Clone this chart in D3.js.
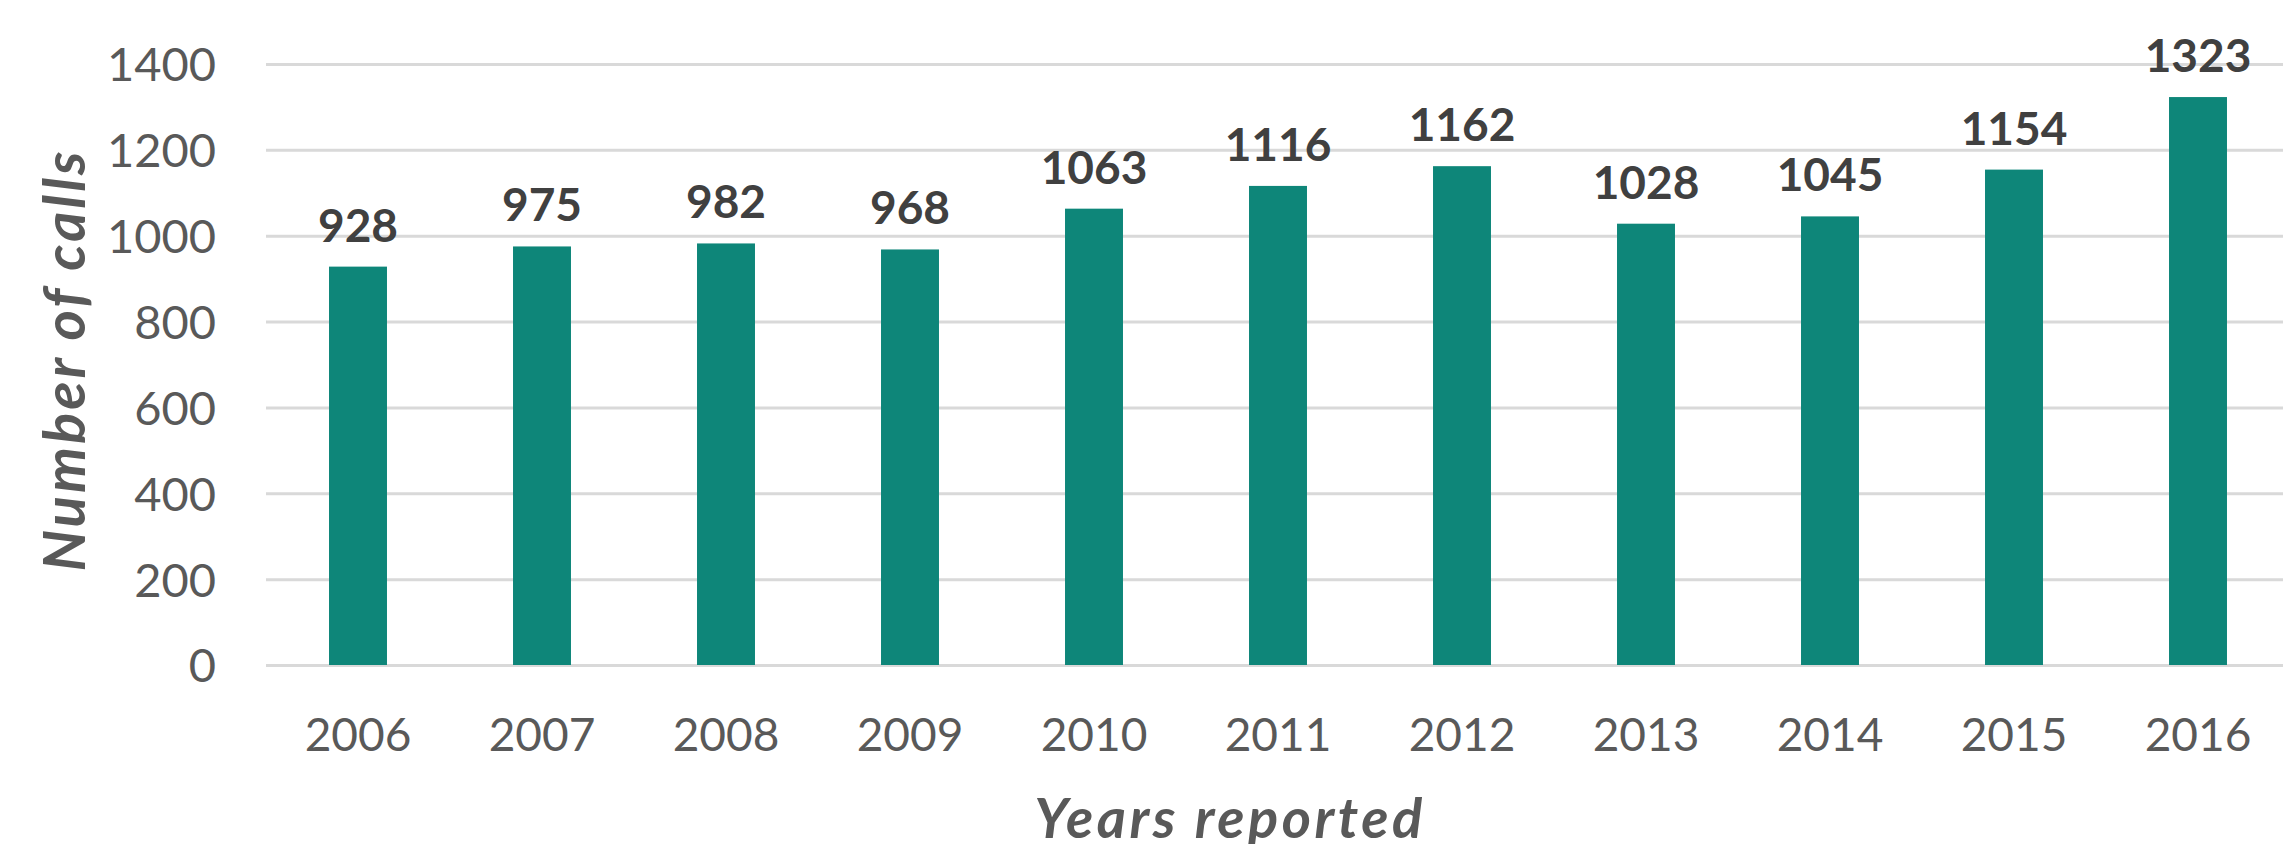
<!DOCTYPE html>
<html><head><meta charset="utf-8">
<script src="https://cdn.jsdelivr.net/npm/d3@7"></script>
<style>html,body{margin:0;padding:0;background:#fff;overflow:hidden}</style>
</head><body>
<svg id="chart" width="2283" height="844"></svg>
<script>
const years = ["2006","2007","2008","2009","2010","2011","2012","2013","2014","2015","2016"];
const calls = [928,975,982,968,1063,1116,1162,1028,1045,1154,1323];
const yTicks = [0,200,400,600,800,1000,1200,1400];
const xTitle = "Years reported";
const yTitle = "Number of calls";

const svg = d3.select("#chart");
const font = "Lato, 'Open Sans', sans-serif";
const x = d3.scaleBand().domain(years).range([266, 2290]).paddingInner(0.685).paddingOuter(0.3425);
const y = d3.scaleLinear().domain([0,1400]).range([665, 64]);

// gridlines
const yAxis = d3.axisLeft(y).tickValues(yTicks).tickSize(-(2290-266)).tickPadding(50).tickFormat(d3.format("d"));
const gy = svg.append("g").attr("transform","translate(266,0)").call(yAxis);
gy.select(".domain").remove();
gy.selectAll(".tick line").attr("stroke","#d9d9d9").attr("stroke-width",3);
gy.selectAll(".tick text").attr("fill","#595959").style("font-family",font).style("font-size","47px").attr("dy","0.36em");

// bars
svg.append("g").selectAll("rect").data(years).join("rect")
  .attr("x", d=>x(d)).attr("width", x.bandwidth())
  .attr("y", (d,i)=>y(calls[i])).attr("height",(d,i)=>y(0)-y(calls[i]))
  .attr("fill","#0e8679");

// value labels
svg.append("g").selectAll("text").data(years).join("text")
  .attr("x", d=>x(d)+x.bandwidth()/2).attr("y",(d,i)=>y(calls[i])-25)
  .attr("text-anchor","middle").attr("fill","#404040")
  .style("font-family",font).style("font-size","46px").style("font-weight","bold")
  .text((d,i)=>calls[i]);

// x axis
const xAxis = d3.axisBottom(x).tickSize(0).tickPadding(0);
const gx = svg.append("g").attr("transform","translate(0,665)").call(xAxis);
gx.select(".domain").remove();
gx.selectAll(".tick text").attr("fill","#595959").style("font-family",font).style("font-size","46px").attr("y",86).attr("dy",0);

// titles
svg.append("text").attr("x",1230).attr("y",838).attr("text-anchor","middle")
  .attr("fill","#595959").style("font-family",font).style("font-size","56px").style("letter-spacing","3.5px")
  .style("font-weight","bold").style("font-style","italic").text(xTitle);
svg.append("text").attr("transform","translate(85,360) rotate(-90)").attr("text-anchor","middle")
  .attr("fill","#595959").style("font-family",font).style("font-size","58px").style("letter-spacing","3px")
  .style("font-weight","bold").style("font-style","italic").text(yTitle);
</script>
</body></html>
